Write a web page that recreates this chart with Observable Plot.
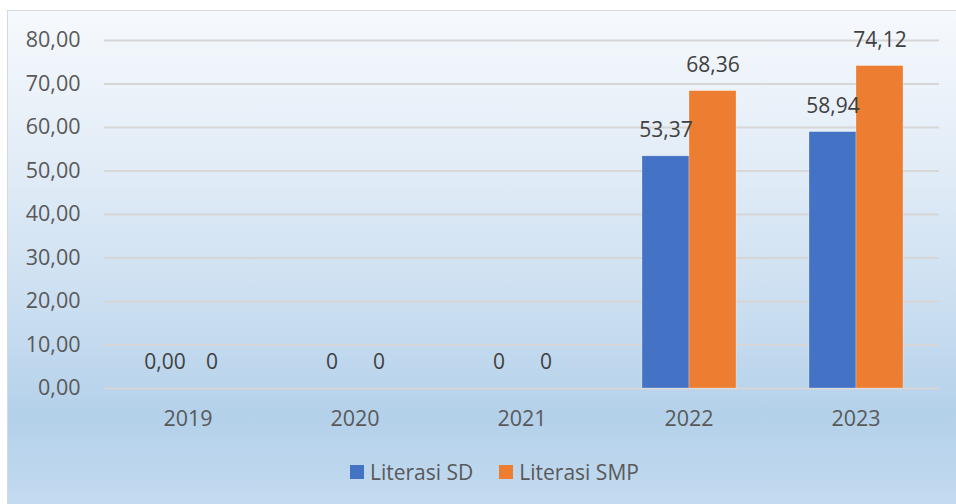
<!DOCTYPE html>
<html>
<head>
<meta charset="utf-8">
<script src="https://cdn.jsdelivr.net/npm/d3@7"></script>
<script src="https://cdn.jsdelivr.net/npm/@observablehq/plot@0.6"></script>
<style>
  html, body { margin: 0; padding: 0; }
  body { width: 956px; height: 504px; overflow: hidden; background: #ffffff; position: relative; font-family: "Open Sans", sans-serif; }
  #frame {
    position: absolute; left: 7px; top: 10px; width: 980px; height: 520px;
    border: 1.5px solid #d9d9d9; box-sizing: border-box;
    background: linear-gradient(to bottom, #f6f9fd 0%, #e3edf7 28%, #cadef1 58%, #b4d1ea 78%, #bcd6ed 88%, #cadef2 100%);
  }
  #chart { position: absolute; left: 0; top: 0; }
  #legend { position: absolute; left: 350px; top: 458px; display: flex; align-items: center; height: 28px; font-size: 21px; color: #595959; }
  .item { display: flex; align-items: center; margin-right: 26px; }
  .sw { width: 14px; height: 14px; margin-right: 6px; }
</style>
</head>
<body>
<div id="frame"></div>
<div id="chart"></div>
<div id="legend"></div>
<script>
const years = ["2019", "2020", "2021", "2022", "2023"];
const series = ["Literasi SD", "Literasi SMP"];
const colors = ["#4472C4", "#ED7D31"];
const sdValues = [0, 0, 0, 53.37, 58.94];
const smpValues = [0, 0, 0, 68.36, 74.12];
const sdLabels = ["0,00", "0", "0", "53,37", "58,94"];
const smpLabels = ["0", "0", "0", "68,36", "74,12"];
const yTicks = [0, 10, 20, 30, 40, 50, 60, 70, 80];

const data = years.flatMap((yr, i) => [
  {year: yr, series: series[0], value: sdValues[i], label: sdLabels[i]},
  {year: yr, series: series[1], value: smpValues[i], label: smpLabels[i]}
]);

const fmt = v => d3.format(".2f")(v).replace(".", ",");

const chart = Plot.plot({
  width: 956,
  height: 440,
  marginTop: 40,
  marginBottom: 52,
  marginLeft: 103,
  marginRight: 17,
  style: {fontFamily: "'Open Sans', sans-serif", fontSize: "21.5px", color: "#595959", background: "transparent"},
  fx: {domain: years, padding: 0, label: null, axis: "bottom", tickSize: 0, tickPadding: 22},
  x: {domain: series, paddingInner: 0, paddingOuter: 0.745, axis: null},
  y: {domain: [0, 80], ticks: yTicks, tickFormat: fmt, tickSize: 0, tickPadding: 24, label: null},
  color: {domain: series, range: colors},
  marks: [
    Plot.gridY(yTicks, {stroke: "#d6d6d6", strokeOpacity: 1, strokeWidth: 2}),
    Plot.barY(data, {fx: "year", x: "series", y: "value", fill: "series", stroke: "#ffffff", strokeOpacity: 0.35, strokeWidth: 0.75}),
    Plot.text(data, {fx: "year", x: "series", y: "value", text: "label", dy: -26, fontSize: 21, fill: "#404040"})
  ]
});
document.getElementById("chart").appendChild(chart);

const legend = document.getElementById("legend");
series.forEach((s, i) => {
  const item = document.createElement("div");
  item.className = "item";
  const sw = document.createElement("div");
  sw.className = "sw";
  sw.style.background = colors[i];
  const t = document.createElement("span");
  t.textContent = s;
  item.appendChild(sw);
  item.appendChild(t);
  legend.appendChild(item);
});
</script>
</body>
</html>
